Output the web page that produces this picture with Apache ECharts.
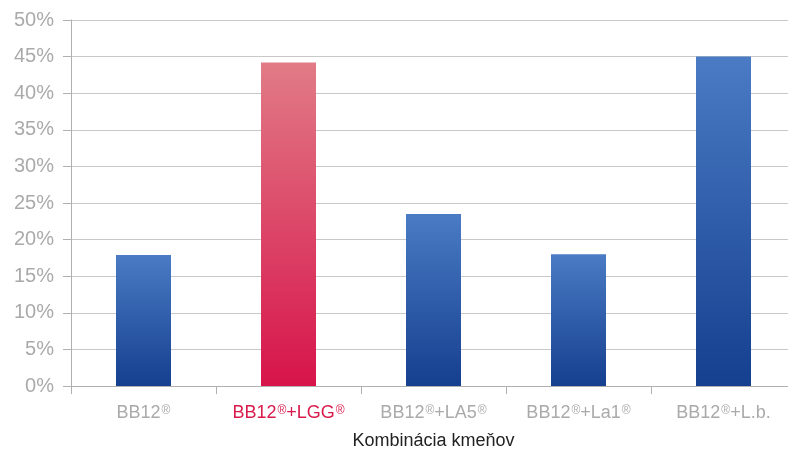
<!DOCTYPE html>
<html>
<head>
<meta charset="utf-8">
<script src="https://cdn.jsdelivr.net/npm/echarts@6/dist/echarts.min.js"></script>
<style>html,body{margin:0;padding:0;background:#fff;overflow:hidden}#c{width:788px;height:450px}</style>
</head>
<body>
<div id="c"></div>
<script>
var categories = ['BB12', 'BB12+LGG', 'BB12+LA5', 'BB12+La1', 'BB12+L.b.'];
var labelParts = [['BB12','®'], ['BB12','®','+LGG','®'], ['BB12','®','+LA5','®'], ['BB12','®','+La1','®'], ['BB12','®','+L.b.']];
var values = [17.9, 44.2, 23.5, 18.0, 45.0];
var highlightIndex = 1;
var yTicks = [0, 5, 10, 15, 20, 25, 30, 35, 40, 45, 50];

var blueGrad = new echarts.graphic.LinearGradient(0, 0, 0, 1, [
  {offset: 0, color: '#4a7bc4'}, {offset: 1, color: '#153f8f'}]);
var redGrad = new echarts.graphic.LinearGradient(0, 0, 0, 1, [
  {offset: 0, color: '#e17b86'}, {offset: 1, color: '#d7144b'}]);

var chart = echarts.init(document.getElementById('c'), null, {renderer: 'canvas'});
chart.setOption({
  animation: false,
  grid: {left: 71, right: -8, top: 20, bottom: 64, containLabel: false, outerBoundsMode: 'none'},
  xAxis: {
    type: 'category',
    data: categories,
    name: 'Kombinácia kmeňov',
    nameLocation: 'middle',
    nameGap: 46,
    nameTextStyle: {color: '#222', fontSize: 18, fontFamily: 'Liberation Sans'},
    axisLine: {lineStyle: {color: '#b0b0b0', width: 1}},
    axisTick: {show: true, length: 8, alignWithLabel: false, lineStyle: {color: '#b0b0b0'}},
    axisLabel: {
      margin: 16,
      interval: 0,
      formatter: function (v, i) {
        var parts = labelParts[i];
        var hl = i === highlightIndex;
        return parts.map(function (p) {
          if (p === '®') return '{' + (hl ? 'rs' : 's') + '|®}';
          return '{' + (hl ? 'r' : 'a') + '|' + p + '}';
        }).join('');
      },
      rich: {
        a: {color: '#aaaaaa', fontSize: 18, fontFamily: 'Liberation Sans', lineHeight: 22},
        s: {color: '#aaaaaa', fontSize: 12, fontFamily: 'Liberation Sans', verticalAlign: 'top', lineHeight: 12, padding: [3, 0, 0, 1]},
        r: {color: '#d81b4c', fontSize: 18, fontFamily: 'Liberation Sans', lineHeight: 22},
        rs: {color: '#d81b4c', fontSize: 12, fontFamily: 'Liberation Sans', verticalAlign: 'top', lineHeight: 12, padding: [3, 0, 0, 1]}
      }
    },
    splitLine: {show: false}
  },
  yAxis: {
    type: 'value',
    min: yTicks[0],
    max: yTicks[yTicks.length - 1],
    interval: 5,
    axisLine: {show: true, lineStyle: {color: '#b0b0b0', width: 1}},
    axisTick: {show: true, length: 8, lineStyle: {color: '#b0b0b0'}},
    axisLabel: {formatter: '{value}%', color: '#aaaaaa', fontSize: 20, fontFamily: 'Liberation Sans', margin: 17},
    splitLine: {show: true, lineStyle: {color: '#c8c8c8', width: 1}}
  },
  series: [{
    type: 'bar',
    barWidth: 55,
    data: values.map(function (v, i) {
      return {value: v, itemStyle: {color: i === highlightIndex ? redGrad : blueGrad}};
    })
  }]
});
</script>
</body>
</html>
